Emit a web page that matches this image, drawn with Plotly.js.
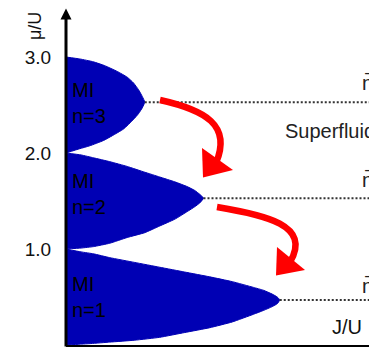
<!DOCTYPE html>
<html>
<head>
<meta charset="utf-8">
<script src="https://cdn.plot.ly/plotly-3.0.1.min.js"></script>
<style>
html,body{margin:0;padding:0;overflow:hidden;background:#fff;}
#chart{width:369px;height:347px;}
</style>
</head>
<body>
<div id="chart"></div>
<script>
// Mott-insulator lobes (J/U, mu/U)
const lobeLabels = ['MI<br>n=1', 'MI<br>n=2', 'MI<br>n=3'];
const J1 = [0, 0.012, 0.022, 0.035, 0.055, 0.075, 0.095, 0.115, 0.133, 0.150, 0.158, 0.165, 0.169, 0.171, 0.169, 0.165, 0.158, 0.150, 0.133, 0.115, 0.095, 0.075, 0.055, 0.035, 0.020, 0.011, 0];
const mu1 = [1.00, 0.97, 0.95, 0.91, 0.86, 0.81, 0.76, 0.71, 0.66, 0.60, 0.57, 0.53, 0.50, 0.47, 0.43, 0.40, 0.36, 0.32, 0.24, 0.18, 0.13, 0.08, 0.05, 0.03, 0.015, 0.008, 0];
const J2 = [0, 0.012, 0.022, 0.035, 0.049, 0.063, 0.075, 0.087, 0.097, 0.103, 0.107, 0.110, 0.107, 0.103, 0.097, 0.087, 0.075, 0.063, 0.049, 0.035, 0.022, 0.012, 0];
const mu2 = [2.00, 1.98, 1.95, 1.91, 1.86, 1.80, 1.75, 1.70, 1.65, 1.61, 1.57, 1.53, 1.48, 1.44, 1.39, 1.31, 1.24, 1.17, 1.12, 1.06, 1.025, 1.01, 1.00];
const J3 = [0, 0.011, 0.022, 0.031, 0.041, 0.049, 0.054, 0.058, 0.061, 0.063, 0.061, 0.058, 0.054, 0.046, 0.037, 0.030, 0.019, 0.011, 0];
const mu3 = [3.00, 2.98, 2.95, 2.91, 2.85, 2.79, 2.73, 2.66, 2.59, 2.53, 2.47, 2.41, 2.35, 2.25, 2.18, 2.13, 2.075, 2.045, 2.00];
// lobe tips and fillings
const tipJ = [0.171, 0.110, 0.063];
const tipMu = [0.47, 1.53, 2.53];
const fillLabels = ['n\u0304=1', 'n\u0304=2', 'n\u0304=3'];
// axis ticks
const tickVals = [1, 2, 3];
const tickText = ['1.0', '2.0', '3.0'];

const xMax = 0.2424, yMax = 3.594;
const BLUE = '#0000b4', RED = '#ff0000';
const FONT = 'Liberation Sans, Arial, Helvetica, sans-serif';

const lobes = [[J1, mu1], [J2, mu2], [J3, mu3]];
const traces = [];
lobes.forEach(([jx, my]) => {
  traces.push({
    x: jx, y: my, type: 'scatter', mode: 'lines', fill: 'toself',
    fillcolor: BLUE, line: {color: BLUE, width: 1, shape: 'spline', smoothing: 0.4},
    hoverinfo: 'skip', showlegend: false
  });
});
tipJ.forEach((tj, i) => {
  traces.push({
    x: [tj, xMax + 0.05], y: [tipMu[i], tipMu[i]], type: 'scatter', mode: 'lines',
    line: {color: '#333', width: 2, dash: '2px,2px'}, hoverinfo: 'skip', showlegend: false
  });
});

// pixel -> paper helpers for decorations (plot area: x 66..369, y 0..345)
const X = p => (p - 66) / 303;
const Y = p => (345 - p) / 345;
function pstr(cmds) {
  return cmds.map(c => {
    const op = c[0]; const nums = c.slice(1);
    const out = [];
    for (let k = 0; k < nums.length; k += 2) out.push(X(nums[k]).toFixed(5) + ',' + Y(nums[k + 1]).toFixed(5));
    return op + out.join(' ');
  }).join(' ');
}

const shapes = [
  // y axis line with arrow
  {type: 'line', xref: 'paper', yref: 'paper', x0: X(66), x1: X(66), y0: Y(346.5), y1: Y(16), line: {color: '#000', width: 3}},
  {type: 'path', xref: 'paper', yref: 'paper', path: pstr([['M', 60.5, 19.5], ['L', 71.5, 19.5], ['L', 66, 8.5], ['Z']]), fillcolor: '#000', line: {width: 0}},
  // red curved arrow 1
  {type: 'path', xref: 'paper', yref: 'paper', path: pstr([['M', 160, 100], ['C', 205, 110, 232, 125, 216, 163]]), line: {color: RED, width: 6.5}},
  {type: 'path', xref: 'paper', yref: 'paper', path: pstr([['M', 202, 148], ['L', 233, 170], ['L', 203, 177.5], ['Z']]), fillcolor: RED, line: {width: 0}},
  // red curved arrow 2
  {type: 'path', xref: 'paper', yref: 'paper', path: pstr([['M', 217, 207], ['C', 265, 215, 312, 225, 290, 262]]), line: {color: RED, width: 6.5}},
  {type: 'path', xref: 'paper', yref: 'paper', path: pstr([['M', 277, 247], ['L', 305, 270], ['L', 276, 275.5], ['Z']]), fillcolor: RED, line: {width: 0}}
];

const annotations = [];
const lobeLabelMu = [0.5, 1.573, 2.516];
lobeLabels.forEach((t, i) => annotations.push({
  x: 0.003, y: lobeLabelMu[i], xref: 'x', yref: 'y', text: t, showarrow: false,
  xanchor: 'left', yanchor: 'middle', align: 'left', font: {family: FONT, size: 20, color: '#000'}
}));
const fillLabelMu = [0.615, 1.719, 2.729];
fillLabels.forEach((t, i) => annotations.push({
  x: X(360), y: Y(345 - fillLabelMu[i] * 96), xref: 'paper', yref: 'paper', text: t, showarrow: false,
  xanchor: 'left', yanchor: 'middle', font: {family: FONT, size: 20, color: '#222'}
}));
annotations.push({x: X(283), y: Y(130.5), xref: 'paper', yref: 'paper', text: 'Superfluid', showarrow: false,
  xanchor: 'left', yanchor: 'middle', font: {family: FONT, size: 20, color: '#222'}});
annotations.push({x: X(330), y: Y(326.5), xref: 'paper', yref: 'paper', text: 'J/U', showarrow: false,
  xanchor: 'left', yanchor: 'middle', font: {family: FONT, size: 20, color: '#111'}});
annotations.push({x: X(35), y: Y(26), xref: 'paper', yref: 'paper', text: '\u03bc/U', showarrow: false, textangle: -90,
  xanchor: 'center', yanchor: 'middle', font: {family: FONT, size: 18, color: '#111'}});

const layout = {
  width: 369, height: 347,
  margin: {l: 66, r: 0, t: 0, b: 2, pad: 0},
  paper_bgcolor: '#fff', plot_bgcolor: '#fff',
  showlegend: false,
  xaxis: {range: [0, xMax], showgrid: false, zeroline: false, showticklabels: false, ticks: '',
          showline: true, linecolor: '#000', linewidth: 3, fixedrange: true},
  yaxis: {range: [0, yMax], showgrid: false, zeroline: false, showline: false,
          tickvals: tickVals, ticktext: tickText, ticks: 'outside', ticklen: 10, tickcolor: 'rgba(0,0,0,0)',
          tickfont: {family: FONT, size: 19, color: '#111'}, fixedrange: true},
  shapes: shapes,
  annotations: annotations
};

Plotly.newPlot('chart', traces, layout, {staticPlot: true, displayModeBar: false});
</script>
</body>
</html>
